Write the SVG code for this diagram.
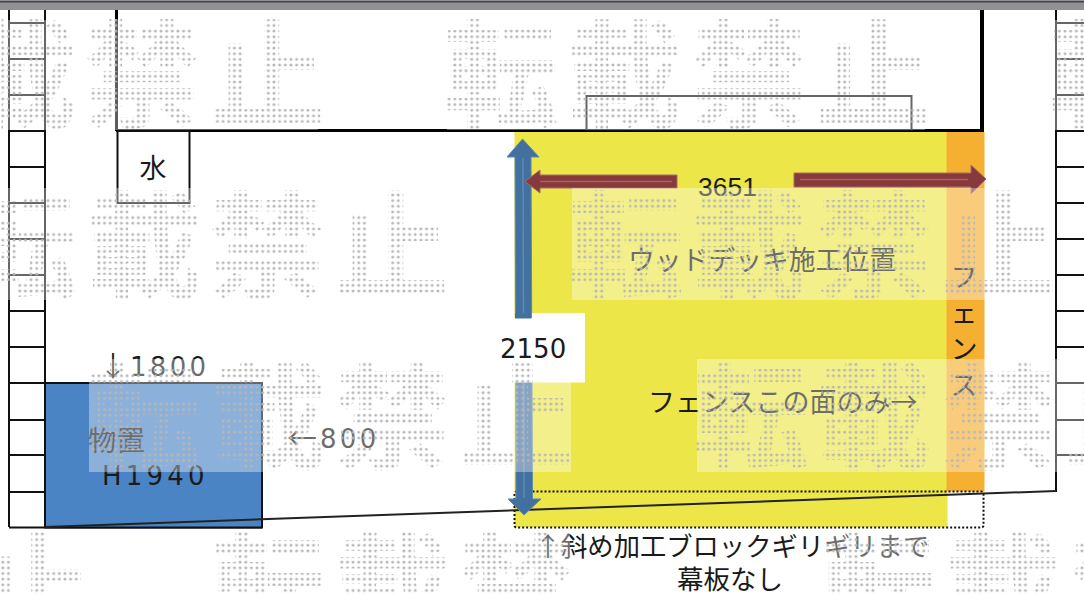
<svg xmlns="http://www.w3.org/2000/svg" width="1084" height="594" viewBox="0 0 1084 594">
<style>
.l{stroke:#111;stroke-width:2;fill:none}
.cjk{font-family:"Noto Sans CJK JP","Noto Sans",sans-serif;fill:#1a1a1a}
.num{font-family:"DejaVu Sans",sans-serif;font-size:26px;fill:#1a1a1a}
.ov{fill:#fff;fill-opacity:.36}
.wm{font-family:"Noto Sans CJK JP",sans-serif;font-weight:700;font-size:116px;fill:url(#dots)}
.ab{fill:#42709f;stroke:#5f88b5;stroke-width:1}
.ar{fill:#873a3c;stroke:#a86a6a;stroke-width:1}
</style>
<defs>
<pattern id="dots" width="5.65" height="5.65" patternUnits="userSpaceOnUse">
<circle cx="2.8" cy="2.8" r="1.5" fill="#b6b6b6"/>
</pattern>
</defs>
<rect width="1084" height="594" fill="#fff"/>
<g id="titlebar">
<rect width="1084" height="10" fill="#909095"/>
<rect y="1" width="1084" height="1.5" fill="#444"/>
</g>
<g id="ladder-left" class="l">
<path d="M9 10V527M45 10V527M9 23H45M9 59H45M9 95H45M9 131H45M9 167H45M9 203H45M9 239H45M9 275H45M9 311H45M9 347H45M9 383H45M9 420H45M9 455H45M9 492H45M9 527.5H262"/>
</g>
<g id="ladder-right" class="l">
<path d="M1056 10V492M1056 23H1084M1056 59H1084M1056 95H1084M1056 131H1084M1056 167H1084M1056 203H1084M1056 239H1084M1056 275H1084M1056 311H1084M1056 347H1084M1056 383H1084M1056 420H1084M1056 455H1084"/>
</g>
<g id="walls">
<path d="M116.500 10V131" stroke="#000" stroke-width="3" fill="none"/>
<path d="M982 10V131" stroke="#000" stroke-width="4" fill="none"/>
<path d="M116 130.500H984" stroke="#000" stroke-width="3" fill="none"/>
<rect x="586.500" y="96" width="325" height="34" fill="none" stroke="#111" stroke-width="2"/>
</g>
<g id="deck">
<rect x="514.500" y="132" width="433" height="395" fill="#ece648"/>
</g>
<g id="fence">
<rect x="946.500" y="132" width="38" height="359.500" fill="#f6b031"/>
</g>
<g id="water">
<rect x="117.500" y="131" width="72" height="72" fill="#fff" stroke="#111" stroke-width="2"/>
<text class="cjk" x="153" y="178" font-size="27" text-anchor="middle">水</text>
</g>
<g id="storage">
<rect x="45" y="383" width="217" height="144.500" fill="#4a84c4" stroke="#111" stroke-width="2"/>
<text class="cjk" x="88" y="451" font-size="28.500">物置</text>
<text class="num" x="102" y="485" letter-spacing="4.200">H1940</text>
</g>
<g id="block-area">
<rect x="514.500" y="491.500" width="469" height="36" rx="2" fill="none" stroke="#111" stroke-width="2" stroke-dasharray="2 2"/>
</g>
<g id="connectors">
<path d="M45 527L1056 491" stroke="#222" stroke-width="2" fill="none"/>
<path class="ab" d="M522.500 139L539 157H531L532.500 499H541L524 515L508 499H516L515 157H507Z"/>
<path d="M523 158L524 498" stroke="#5f88b5" stroke-width="1.500" fill="none"/>
<path class="ar" d="M525 181.500L540 170V175H677V188H540V193Z"/>
<path class="ar" d="M794 173H971V165L986 179L971 194V187H794Z"/>
<path d="M540 181.500H672M800 179.500H968" stroke="#b55c5e" stroke-width="1.500" fill="none"/>
</g>
<g id="labels">
<text class="cjk" x="628" y="270" font-size="26.800">ウッドデッキ施工位置</text>
<text class="cjk" x="648" y="412" font-size="27">フェンスこの面のみ→</text>
<text class="cjk" x="964" font-size="27" text-anchor="middle"><tspan x="964" y="287">フ</tspan><tspan x="964" y="323">ェ</tspan><tspan x="964" y="359">ン</tspan><tspan x="964" y="395">ス</tspan></text>
<text class="cjk" x="99" y="377" font-size="28">↓</text>
<text class="num" x="130" y="376" letter-spacing="3.300">1800</text>
<text class="cjk" x="287" y="449" font-size="30">←</text>
<text class="num" x="320" y="448" letter-spacing="3.300">800</text>
<text x="698" y="196" font-family="'Liberation Sans',sans-serif" font-size="26.500" fill="#1a1a1a">3651</text>
<text class="cjk" x="732" y="556" font-size="26.300" text-anchor="middle">↑斜め加工ブロックギリギリまで</text>
<text class="cjk" x="730" y="589" font-size="26.500" text-anchor="middle">幕板なし</text>
</g>
<g id="overlay">
<rect class="ov" x="0" y="20" width="318" height="110"/>
<rect class="ov" x="447" y="20" width="478" height="110"/>
<rect class="ov" x="1053" y="20" width="31" height="110"/>
<rect class="ov" x="0" y="188" width="442" height="112"/>
<rect class="ov" x="572" y="188" width="478" height="112"/>
<rect class="ov" x="89" y="359" width="482" height="113"/>
<rect class="ov" x="697" y="359" width="387" height="113"/>
<rect class="ov" x="0" y="530" width="85" height="64"/>
<rect class="ov" x="215" y="530" width="355" height="64"/>
<rect class="ov" x="825" y="530" width="259" height="64"/>
</g>
<g id="watermark">
<text class="wm" x="-163 -39 84 209 443 566 691 816 1049" y="118">転載禁止転載禁止転</text>
<text class="wm" x="-38 86 209 333 568 691 816 941" y="289">転載禁止転載禁止</text>
<text class="wm" x="86 211 334 458 693 816 941 1064" y="460">転載禁止転載禁止</text>
<text class="wm" x="-24 211 334 458 821 945 1069" y="631">止転載禁転載禁</text>
</g>
<g id="dimension-2150">
<path d="M490 318H532V313H585V382.500H490Z" fill="#fff"/>
<rect x="512" y="363" width="21" height="20" fill="url(#dots)"/>
<path d="M515 313V318.500H531V313Z" fill="#42709f"/>
<text class="num" x="500" y="358">2150</text>
</g>
</svg>
